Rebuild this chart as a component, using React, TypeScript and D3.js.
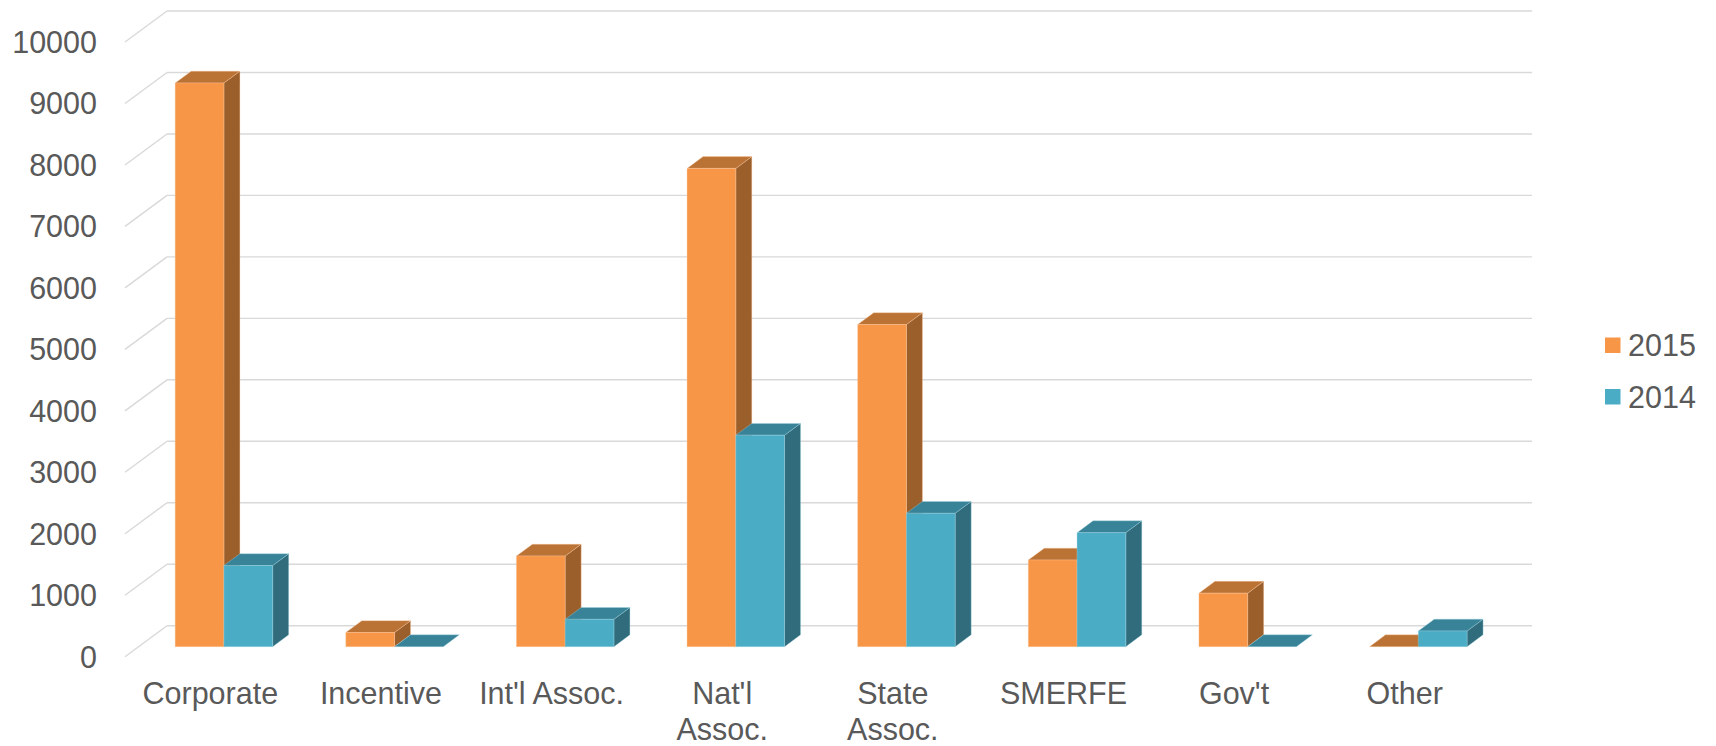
import React from "react";
import * as d3 from "d3";

const categories = ["Corporate", "Incentive", "Int'l Assoc.", "Nat'l\nAssoc.", "State\nAssoc.", "SMERFE", "Gov't", "Other"];
const seriesNames = ["2015", "2014"];
const values2015 = [9170, 230, 1475, 7780, 5240, 1410, 870, 0];
const values2014 = [1320, 0, 445, 3440, 2170, 1855, 0, 255];
const yTicks = [0, 1000, 2000, 3000, 4000, 5000, 6000, 7000, 8000, 9000, 10000];

const W = 1716;
const H = 746;
const FRONT_LEFT = 125;
const FRONT_RIGHT = 1490;
const FRONT_ZERO = 656.7;
const DDX = 42;
const DDY = -31;
const D0 = 0.324;
const D1 = 0.705;
const FONT = "'Liberation Sans', Arial, sans-serif";
const FS = 30.5;
const TXT = "#595959";
const GRID = "#d9d9d9";

const colors = {
  "2015": { front: "#f79646", top: "#bb7335", side: "#9b5f2b", edge: "#fcc89f" },
  "2014": { front: "#4bacc6", top: "#388398", side: "#316c7c", edge: "#9fd6e4" },
};

export default function App() {
  const xBand = d3.scaleBand().domain(categories).range([FRONT_LEFT, FRONT_RIGHT]).paddingInner(0).paddingOuter(0);
  const xSeries = d3.scaleBand().domain(seriesNames).range([0, xBand.bandwidth()]).paddingInner(0).paddingOuter(0.75);
  const y = d3.scaleLinear().domain([0, 10000]).range([FRONT_ZERO, FRONT_ZERO - 614.7]);

  const P = (x: number, v: number, d: number) => [x + d * DDX, y(v) + d * DDY];
  const poly = (pts: number[][]) => pts.map((p) => p.join(",")).join(" ");

  const bars: any[] = [];
  categories.forEach((c, i) => {
    seriesNames.forEach((s) => {
      const v = s === "2015" ? values2015[i] : values2014[i];
      const xl = (xBand(c) as number) + (xSeries(s) as number);
      const xr = xl + xSeries.bandwidth();
      const col = (colors as any)[s];
      const front = [P(xl, 0, D0), P(xr, 0, D0), P(xr, v, D0), P(xl, v, D0)];
      const top = [P(xl, v, D0), P(xr, v, D0), P(xr, v, D1), P(xl, v, D1)];
      const side = [P(xr, 0, D0), P(xr, 0, D1), P(xr, v, D1), P(xr, v, D0)];
      bars.push(
        <g key={c + s}>
          {v > 0 && <polygon points={poly(side)} fill={col.side} stroke={col.edge} strokeWidth={0.6} strokeOpacity={0.6} />}
          <polygon points={poly(top)} fill={col.top} stroke={col.edge} strokeWidth={0.6} strokeOpacity={0.6} />
          {v > 0 && <polygon points={poly(front)} fill={col.front} stroke={col.edge} strokeWidth={0.6} strokeOpacity={0.6} />}
        </g>
      );
    });
  });

  return (
    <svg width={W} height={H} style={{ position: "absolute", left: 0, top: 0, background: "#fff" }}>
      <g>
        {yTicks.map((t) => {
          const f = P(FRONT_LEFT, t, 0);
          const b = P(FRONT_LEFT, t, 1);
          const br = P(FRONT_RIGHT, t, 1);
          return (
            <g key={t}>
              <line x1={f[0]} y1={f[1]} x2={b[0]} y2={b[1]} stroke={GRID} strokeWidth={1.4} />
              <line x1={b[0]} y1={b[1]} x2={br[0]} y2={br[1]} stroke={GRID} strokeWidth={1.4} />
              <text x={97} y={f[1] + FS * 0.36} textAnchor="end" fontFamily={FONT} fontSize={FS} fill={TXT}>
                {t}
              </text>
            </g>
          );
        })}
      </g>
      <g>{bars}</g>
      <g>
        {categories.map((c) => {
          const cx = (xBand(c) as number) + xBand.bandwidth() / 2;
          const lines = c.split("\n");
          return (
            <text key={c} x={cx} y={703.5} textAnchor="middle" fontFamily={FONT} fontSize={FS} fill={TXT}>
              {lines.map((l, k) => (
                <tspan key={k} x={cx} dy={k === 0 ? 0 : 36.5}>
                  {l}
                </tspan>
              ))}
            </text>
          );
        })}
      </g>
      <g>
        {seriesNames.map((s, i) => (
          <g key={s}>
            <rect x={1605} y={337.5 + i * 51.5} width={15.5} height={15.5} fill={(colors as any)[s].front} />
            <text x={1628} y={356 + i * 51.5} fontFamily={FONT} fontSize={FS} fill={TXT}>
              {s}
            </text>
          </g>
        ))}
      </g>
    </svg>
  );
}
